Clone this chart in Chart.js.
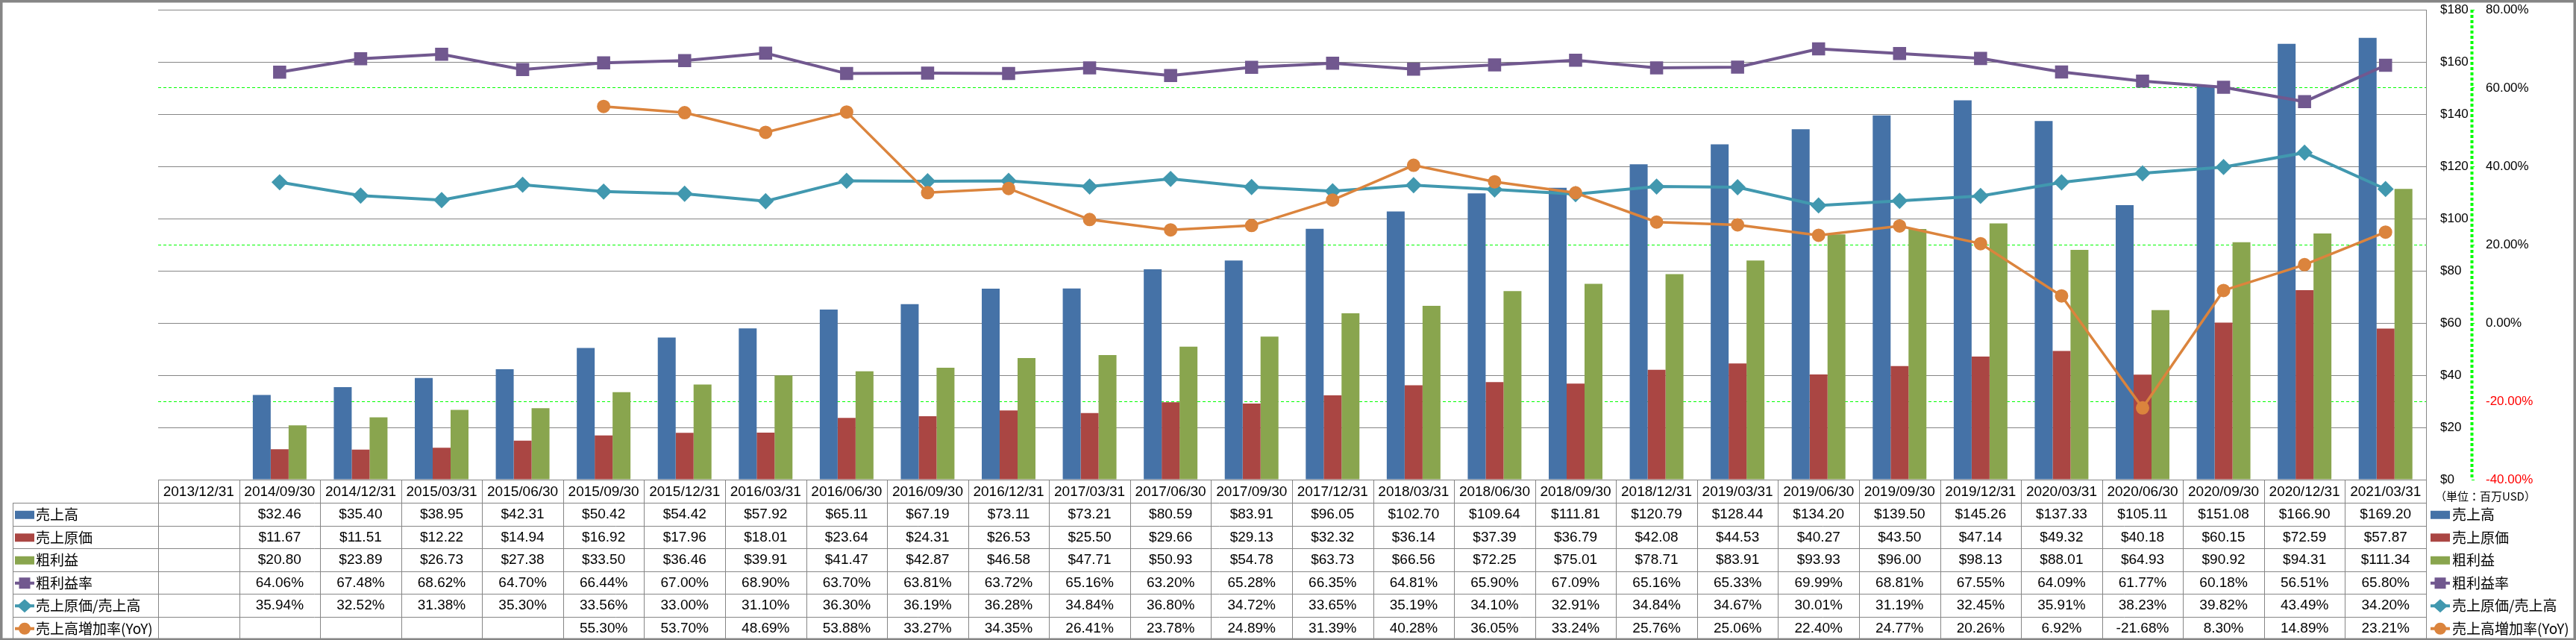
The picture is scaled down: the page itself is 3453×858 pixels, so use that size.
<!DOCTYPE html>
<html>
<head>
<meta charset="utf-8">
<script src="https://cdn.jsdelivr.net/npm/chart.js@4.4.1/dist/chart.umd.min.js"></script>
<style>
html,body{margin:0;padding:0;background:#ffffff;}
canvas{display:block;}
</style>
</head>
<body>
<canvas id="c" width="3453" height="858"></canvas>
<script>
// ---------- data ----------
const categories = ['2013/12/31','2014/09/30','2014/12/31','2015/03/31','2015/06/30','2015/09/30','2015/12/31','2016/03/31','2016/06/30','2016/09/30','2016/12/31','2017/03/31','2017/06/30','2017/09/30','2017/12/31','2018/03/31','2018/06/30','2018/09/30','2018/12/31','2019/03/31','2019/06/30','2019/09/30','2019/12/31','2020/03/31','2020/06/30','2020/09/30','2020/12/31','2021/03/31'];
const sales = [null,32.46,35.40,38.95,42.31,50.42,54.42,57.92,65.11,67.19,73.11,73.21,80.59,83.91,96.05,102.70,109.64,111.81,120.79,128.44,134.20,139.50,145.26,137.33,105.11,151.08,166.90,169.20];
const costOfSales = [null,11.67,11.51,12.22,14.94,16.92,17.96,18.01,23.64,24.31,26.53,25.50,29.66,29.13,32.32,36.14,37.39,36.79,42.08,44.53,40.27,43.50,47.14,49.32,40.18,60.15,72.59,57.87];
const grossProfit = [null,20.80,23.89,26.73,27.38,33.50,36.46,39.91,41.47,42.87,46.58,47.71,50.93,54.78,63.73,66.56,72.25,75.01,78.71,83.91,93.93,96.00,98.13,88.01,64.93,90.92,94.31,111.34];
const grossMargin = [null,64.06,67.48,68.62,64.70,66.44,67.00,68.90,63.70,63.81,63.72,65.16,63.20,65.28,66.35,64.81,65.90,67.09,65.16,65.33,69.99,68.81,67.55,64.09,61.77,60.18,56.51,65.80];
const costRatio = [null,35.94,32.52,31.38,35.30,33.56,33.00,31.10,36.30,36.19,36.28,34.84,36.80,34.72,33.65,35.19,34.10,32.91,34.84,34.67,30.01,31.19,32.45,35.91,38.23,39.82,43.49,34.20];
const salesYoY = [null,null,null,null,null,55.30,53.70,48.69,53.88,33.27,34.35,26.41,23.78,24.89,31.39,40.28,36.05,33.24,25.76,25.06,22.40,24.77,20.26,6.92,-21.68,8.30,14.89,23.21];
const seriesNames = ['売上高','売上原価','粗利益','粗利益率','売上原価/売上高','売上高増加率(YoY)'];
const leftTickValues = [0,20,40,60,80,100,120,140,160,180];
const rightTickValues = [-40,-20,0,20,40,60,80];
const unitLabel = '（単位：百万USD）';

// ---------- styles ----------
const COL = {blue:'#4572A7', red:'#AA4643', green:'#89A54E', purple:'#71588F', teal:'#4198AF', orange:'#DB843D', grid:'#868686', green2:'#00FF00'};
const NUM_FONT = '"Liberation Sans", Arial, sans-serif';
const JP_FONT = '"Noto Sans CJK JP", "Noto Sans", sans-serif';
const Y_WIDTH = 61;
const Y2_WIDTH = 140;

const money = v => v == null ? '' : '$' + v.toFixed(2);
const pct = v => v == null ? '' : v.toFixed(2) + '%';

const rows = [
  {name: seriesNames[0], data: sales, kind: 'bar', color: COL.blue, fmt: money},
  {name: seriesNames[1], data: costOfSales, kind: 'bar', color: COL.red, fmt: money},
  {name: seriesNames[2], data: grossProfit, kind: 'bar', color: COL.green, fmt: money},
  {name: seriesNames[3], data: grossMargin, kind: 'rect', color: COL.purple, fmt: pct},
  {name: seriesNames[4], data: costRatio, kind: 'diamond', color: COL.teal, fmt: pct},
  {name: seriesNames[5], data: salesYoY, kind: 'circle', color: COL.orange, fmt: pct}
];

function drawMarker(ctx, kind, x, y, color) {
  ctx.fillStyle = color;
  ctx.beginPath();
  if (kind === 'rect') {
    ctx.rect(x - 7.5, y - 7.5, 15, 15);
  } else if (kind === 'diamond') {
    ctx.moveTo(x, y - 9); ctx.lineTo(x + 10, y); ctx.lineTo(x, y + 9); ctx.lineTo(x - 10, y); ctx.closePath();
  } else {
    ctx.arc(x, y, 8, 0, Math.PI * 2);
  }
  ctx.fill();
}

function drawKey(ctx, row, x, y) {
  if (row.kind === 'bar') {
    ctx.fillStyle = row.color;
    ctx.fillRect(x, y - 5.5, 26, 11);
  } else {
    ctx.strokeStyle = row.color;
    ctx.lineWidth = 4;
    ctx.beginPath(); ctx.moveTo(x, y); ctx.lineTo(x + 26, y); ctx.stroke();
    drawMarker(ctx, row.kind, x + 13, y, row.color);
  }
}

const noPad = s => { s.paddingTop = 0; s.paddingBottom = 0; };

const bgPlugin = {
  id: 'bg',
  beforeDraw(chart) {
    const ctx = chart.ctx;
    ctx.save();
    ctx.fillStyle = '#ffffff';
    ctx.fillRect(0, 0, chart.width, chart.height);
    ctx.restore();
  }
};

const tablePlugin = {
  id: 'dataTable',
  afterDraw(chart) {
    const ctx = chart.ctx;
    const xs = chart.scales.x;
    const ca = chart.chartArea;
    const n = categories.length;
    const colW = (ca.right - ca.left) / n;
    const top = Math.round(ca.bottom);
    const headH = 31;
    const bottom = 857;
    const rowH = (bottom - top - headH) / rows.length;
    const leftX = 17;
    ctx.save();
    ctx.strokeStyle = COL.grid;
    ctx.lineWidth = 1;
    ctx.setLineDash([]);
    const hl = (x1, x2, y) => { const yy = Math.round(y) + 0.5; ctx.beginPath(); ctx.moveTo(x1, yy); ctx.lineTo(x2, yy); ctx.stroke(); };
    const vl = (x, ya, yb) => { const xx = Math.round(x) + 0.5; ctx.beginPath(); ctx.moveTo(xx, ya); ctx.lineTo(xx, yb); ctx.stroke(); };
    // horizontal
    hl(ca.left, ca.right, top);
    for (let r = 0; r <= rows.length; r++) hl(leftX, ca.right, top + headH + r * rowH);
    // vertical
    vl(leftX, top + headH, bottom);
    for (let i = 0; i <= n; i++) {
      const x = (i < n ? xs.getPixelForValue(i) - colW / 2 : xs.getPixelForValue(n - 1) + colW / 2);
      vl(x, top, bottom);
    }
    // header
    ctx.fillStyle = '#000';
    ctx.textBaseline = 'middle';
    ctx.textAlign = 'center';
    ctx.font = '19px ' + NUM_FONT;
    categories.forEach((c, i) => ctx.fillText(c, xs.getPixelForValue(i), top + headH / 2 + 1));
    // rows
    rows.forEach((row, r) => {
      const cy = top + headH + rowH * (r + 0.5) + 1;
      ctx.textAlign = 'center';
      ctx.font = '19px ' + NUM_FONT;
      ctx.fillStyle = '#000';
      row.data.forEach((v, i) => { if (v != null) ctx.fillText(row.fmt(v), xs.getPixelForValue(i), cy); });
      // left label
      drawKey(ctx, row, 20, cy);
      ctx.fillStyle = '#000';
      ctx.textAlign = 'left';
      ctx.font = '19px ' + JP_FONT;
      ctx.fillText(row.name, 48, cy);
      // right legend
      drawKey(ctx, row, 3258, cy);
      ctx.fillStyle = '#000';
      ctx.textAlign = 'left';
      ctx.font = '19px ' + JP_FONT;
      ctx.fillText(row.name, 3287, cy);
    });
    // unit label
    ctx.font = '15px ' + JP_FONT;
    ctx.textAlign = 'left';
    ctx.fillStyle = '#000';
    ctx.fillText(unitLabel, 3264, top + 22);
    // secondary axis dashed line
    ctx.strokeStyle = COL.green2;
    ctx.setLineDash([4, 3]);
    vl(Math.round(ca.right) + Y_WIDTH, ca.top, ca.bottom);
    ctx.setLineDash([]);
    // outer border
    ctx.strokeStyle = COL.grid;
    ctx.strokeRect(1.5, 1.5, 3450, 856);
    ctx.restore();
  }
};

new Chart(document.getElementById('c'), {
  type: 'bar',
  data: {
    labels: categories,
    datasets: [
      {type: 'bar', label: seriesNames[0], data: sales, backgroundColor: COL.blue, yAxisID: 'y', order: 10, categoryPercentage: 0.663, barPercentage: 1.0},
      {type: 'bar', label: seriesNames[1], data: costOfSales, backgroundColor: COL.red, yAxisID: 'y', order: 10, categoryPercentage: 0.663, barPercentage: 1.0},
      {type: 'bar', label: seriesNames[2], data: grossProfit, backgroundColor: COL.green, yAxisID: 'y', order: 10, categoryPercentage: 0.663, barPercentage: 1.0},
      {type: 'line', label: seriesNames[3], data: grossMargin, borderColor: COL.purple, backgroundColor: COL.purple, borderWidth: 4, pointStyle: 'rect', pointRadius: 11, pointBorderWidth: 2, pointBorderColor: COL.purple, pointBackgroundColor: COL.purple, yAxisID: 'y2', order: 2, tension: 0},
      {type: 'line', label: seriesNames[4], data: costRatio, borderColor: COL.teal, backgroundColor: COL.teal, borderWidth: 4, pointStyle: 'rectRot', pointRadius: 9.5, pointBorderWidth: 2, pointBorderColor: COL.teal, pointBackgroundColor: COL.teal, yAxisID: 'y2', order: 1, tension: 0},
      {type: 'line', label: seriesNames[5], data: salesYoY, borderColor: COL.orange, backgroundColor: COL.orange, borderWidth: 3.5, pointStyle: 'circle', pointRadius: 8, pointBorderWidth: 2, pointBorderColor: COL.orange, pointBackgroundColor: COL.orange, yAxisID: 'y2', order: 0, tension: 0}
    ]
  },
  options: {
    responsive: false,
    animation: false,
    devicePixelRatio: 1,
    layout: {padding: {left: 212, top: 13, right: 0, bottom: 215}},
    plugins: {legend: {display: false}, tooltip: {enabled: false}, title: {display: false}},
    scales: {
      x: {display: false, offset: true},
      y: {
        position: 'right',
        weight: 0,
        min: 0, max: 180,
        afterBuildTicks: s => { s.ticks = leftTickValues.map(v => ({value: v})); },
        afterFit: s => { s.width = Y_WIDTH; noPad(s); },
        grid: {color: COL.grid, lineWidth: 1, drawTicks: false},
        border: {display: true, color: COL.grid, width: 1},
        ticks: {padding: 19, color: '#000', font: {family: 'Liberation Sans', size: 17}, callback: v => '$' + v}
      },
      y2: {
        position: 'right',
        weight: 1,
        min: -40, max: 80,
        afterBuildTicks: s => { s.ticks = rightTickValues.map(v => ({value: v})); },
        afterFit: s => { s.width = Y2_WIDTH; noPad(s); },
        grid: {
          color: c => ([60, 20, -20].includes(c.tick && c.tick.value) ? COL.green2 : 'rgba(0,0,0,0)'),
          tickColor: COL.green2, lineWidth: 1, drawTicks: true, tickLength: 4
        },
        border: {display: false, dash: [4, 3]},
        ticks: {
          padding: 15,
          color: c => (c.tick && c.tick.value < 0 ? '#FF0000' : '#000'),
          font: {family: 'Liberation Sans', size: 17},
          callback: v => Number(v).toFixed(2) + '%'
        }
      }
    }
  },
  plugins: [bgPlugin, tablePlugin]
});
</script>
</body>
</html>
